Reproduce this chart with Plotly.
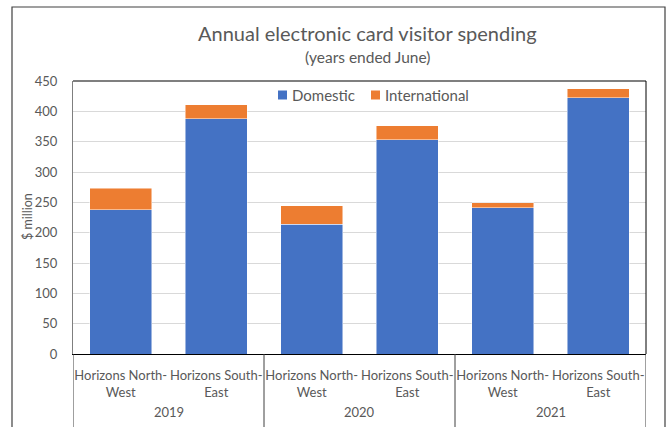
import plotly.graph_objects as go

years = ["2019", "2019", "2020", "2020", "2021", "2021"]
regions = ["Horizons North-<br>West", "Horizons South-<br>East",
           "Horizons North-<br>West", "Horizons South-<br>East",
           "Horizons North-<br>West", "Horizons South-<br>East"]
domestic = [238, 388, 214, 353, 241, 422]
international = [35, 23, 30, 23, 8, 15]
y_ticks = [0, 50, 100, 150, 200, 250, 300, 350, 400, 450]
series_names = ["Domestic", "International"]
series_colors = ["#4472C4", "#ED7D31"]

FONT = "Lato"
GREY = "#595959"

xpos = list(range(len(regions)))

fig = go.Figure()
for name, vals, col in zip(series_names, [domestic, international], series_colors):
    fig.add_trace(go.Bar(x=xpos, y=vals, name=name, customdata=years,
                         marker=dict(color=col, line=dict(color="rgba(255,255,255,0.6)", width=0.8))))

# plot-area borders and outer chart border
L, R, T, B = 73, 646, 81, 354
pw, ph = R - L, B - T
def px(x):
    return (x - L) / pw
def py(y):
    return (B - y) / ph

shapes = [
    dict(type="line", xref="paper", yref="paper", x0=0, x1=1, y0=1, y1=1,
         line=dict(color="#7f7f7f", width=2)),
    dict(type="rect", xref="paper", yref="paper", x0=px(12), x1=px(665),
         y0=py(460), y1=py(7), line=dict(color="#404040", width=1.2),
         fillcolor="rgba(0,0,0,0)"),
    dict(type="line", xref="paper", yref="paper", x0=1, x1=1, y0=0, y1=1,
         line=dict(color="black", width=1)),
]

# group structure derived from the years list
groups = []
for i, yr in enumerate(years):
    if not groups or groups[-1][0] != yr:
        groups.append([yr, i, i])
    else:
        groups[-1][2] = i
bounds = sorted({g[1] - 0.5 for g in groups} | {g[2] + 0.5 for g in groups})
for b in bounds:
    shapes.append(dict(type="line", xref="x", yref="paper", x0=b, x1=b,
                       y0=0, y1=py(430), line=dict(color="#404040", width=1)))

annotations = [
    dict(text="Annual electronic card visitor spending", xref="paper", yref="paper",
         x=px(367), y=py(33), xanchor="center", yanchor="middle", showarrow=False,
         font=dict(size=20, color=GREY, family=FONT)),
    dict(text="(years ended June)", xref="paper", yref="paper",
         x=px(367), y=py(57), xanchor="center", yanchor="middle", showarrow=False,
         font=dict(size=15.5, color=GREY, family=FONT)),
    dict(text="$ million", xref="paper", yref="paper", x=px(27), y=py(217),
         xanchor="center", yanchor="middle", showarrow=False, textangle=-90,
         font=dict(size=12.5, color=GREY, family=FONT)),
]
for yr, i0, i1 in groups:
    annotations.append(dict(text=yr, xref="x", yref="paper", x=(i0 + i1) / 2, y=py(412),
                            xanchor="center", yanchor="middle", showarrow=False,
                            font=dict(size=13, color=GREY, family=FONT)))

# legend drawn as squares + text
leg_items = [(278, "Domestic"), (371, "International")]
for (lx, name), col in zip(leg_items, series_colors):
    shapes.append(dict(type="rect", xref="paper", yref="paper", x0=px(lx), x1=px(lx + 9),
                       y0=py(99.5), y1=py(90.5), fillcolor=col, line=dict(width=0)))
    annotations.append(dict(text=name, xref="paper", yref="paper", x=px(lx + 12), y=py(95),
                            xanchor="left", yanchor="middle", showarrow=False,
                            font=dict(size=15, color=GREY, family=FONT)))

fig.update_layout(
    width=670, height=427,
    barmode="stack", bargap=0.35,
    paper_bgcolor="white", plot_bgcolor="white",
    margin=dict(l=L, r=670 - R, t=T, b=427 - B, pad=0, autoexpand=False),
    font=dict(family=FONT, color=GREY, size=13),
    showlegend=False,
    shapes=shapes,
    annotations=annotations,
)
fig.update_yaxes(range=[0, 450], tickvals=y_ticks, showgrid=True, gridcolor="#d9d9d9",
                 gridwidth=1, zeroline=False, showline=True, linecolor="#7f7f7f",
                 linewidth=1, ticks="", ticklabelstandoff=12, automargin=False,
                 tickfont=dict(size=13, color=GREY))
fig.update_xaxes(range=[-0.5, len(regions) - 0.5], tickvals=xpos, ticktext=regions,
                 showline=True, linecolor="black", linewidth=1, showgrid=False,
                 zeroline=False, tickangle=0, ticks="", ticklabelstandoff=9,
                 automargin=False, tickfont=dict(size=13, color=GREY), mirror=False)

fig.write_html("out.html")
